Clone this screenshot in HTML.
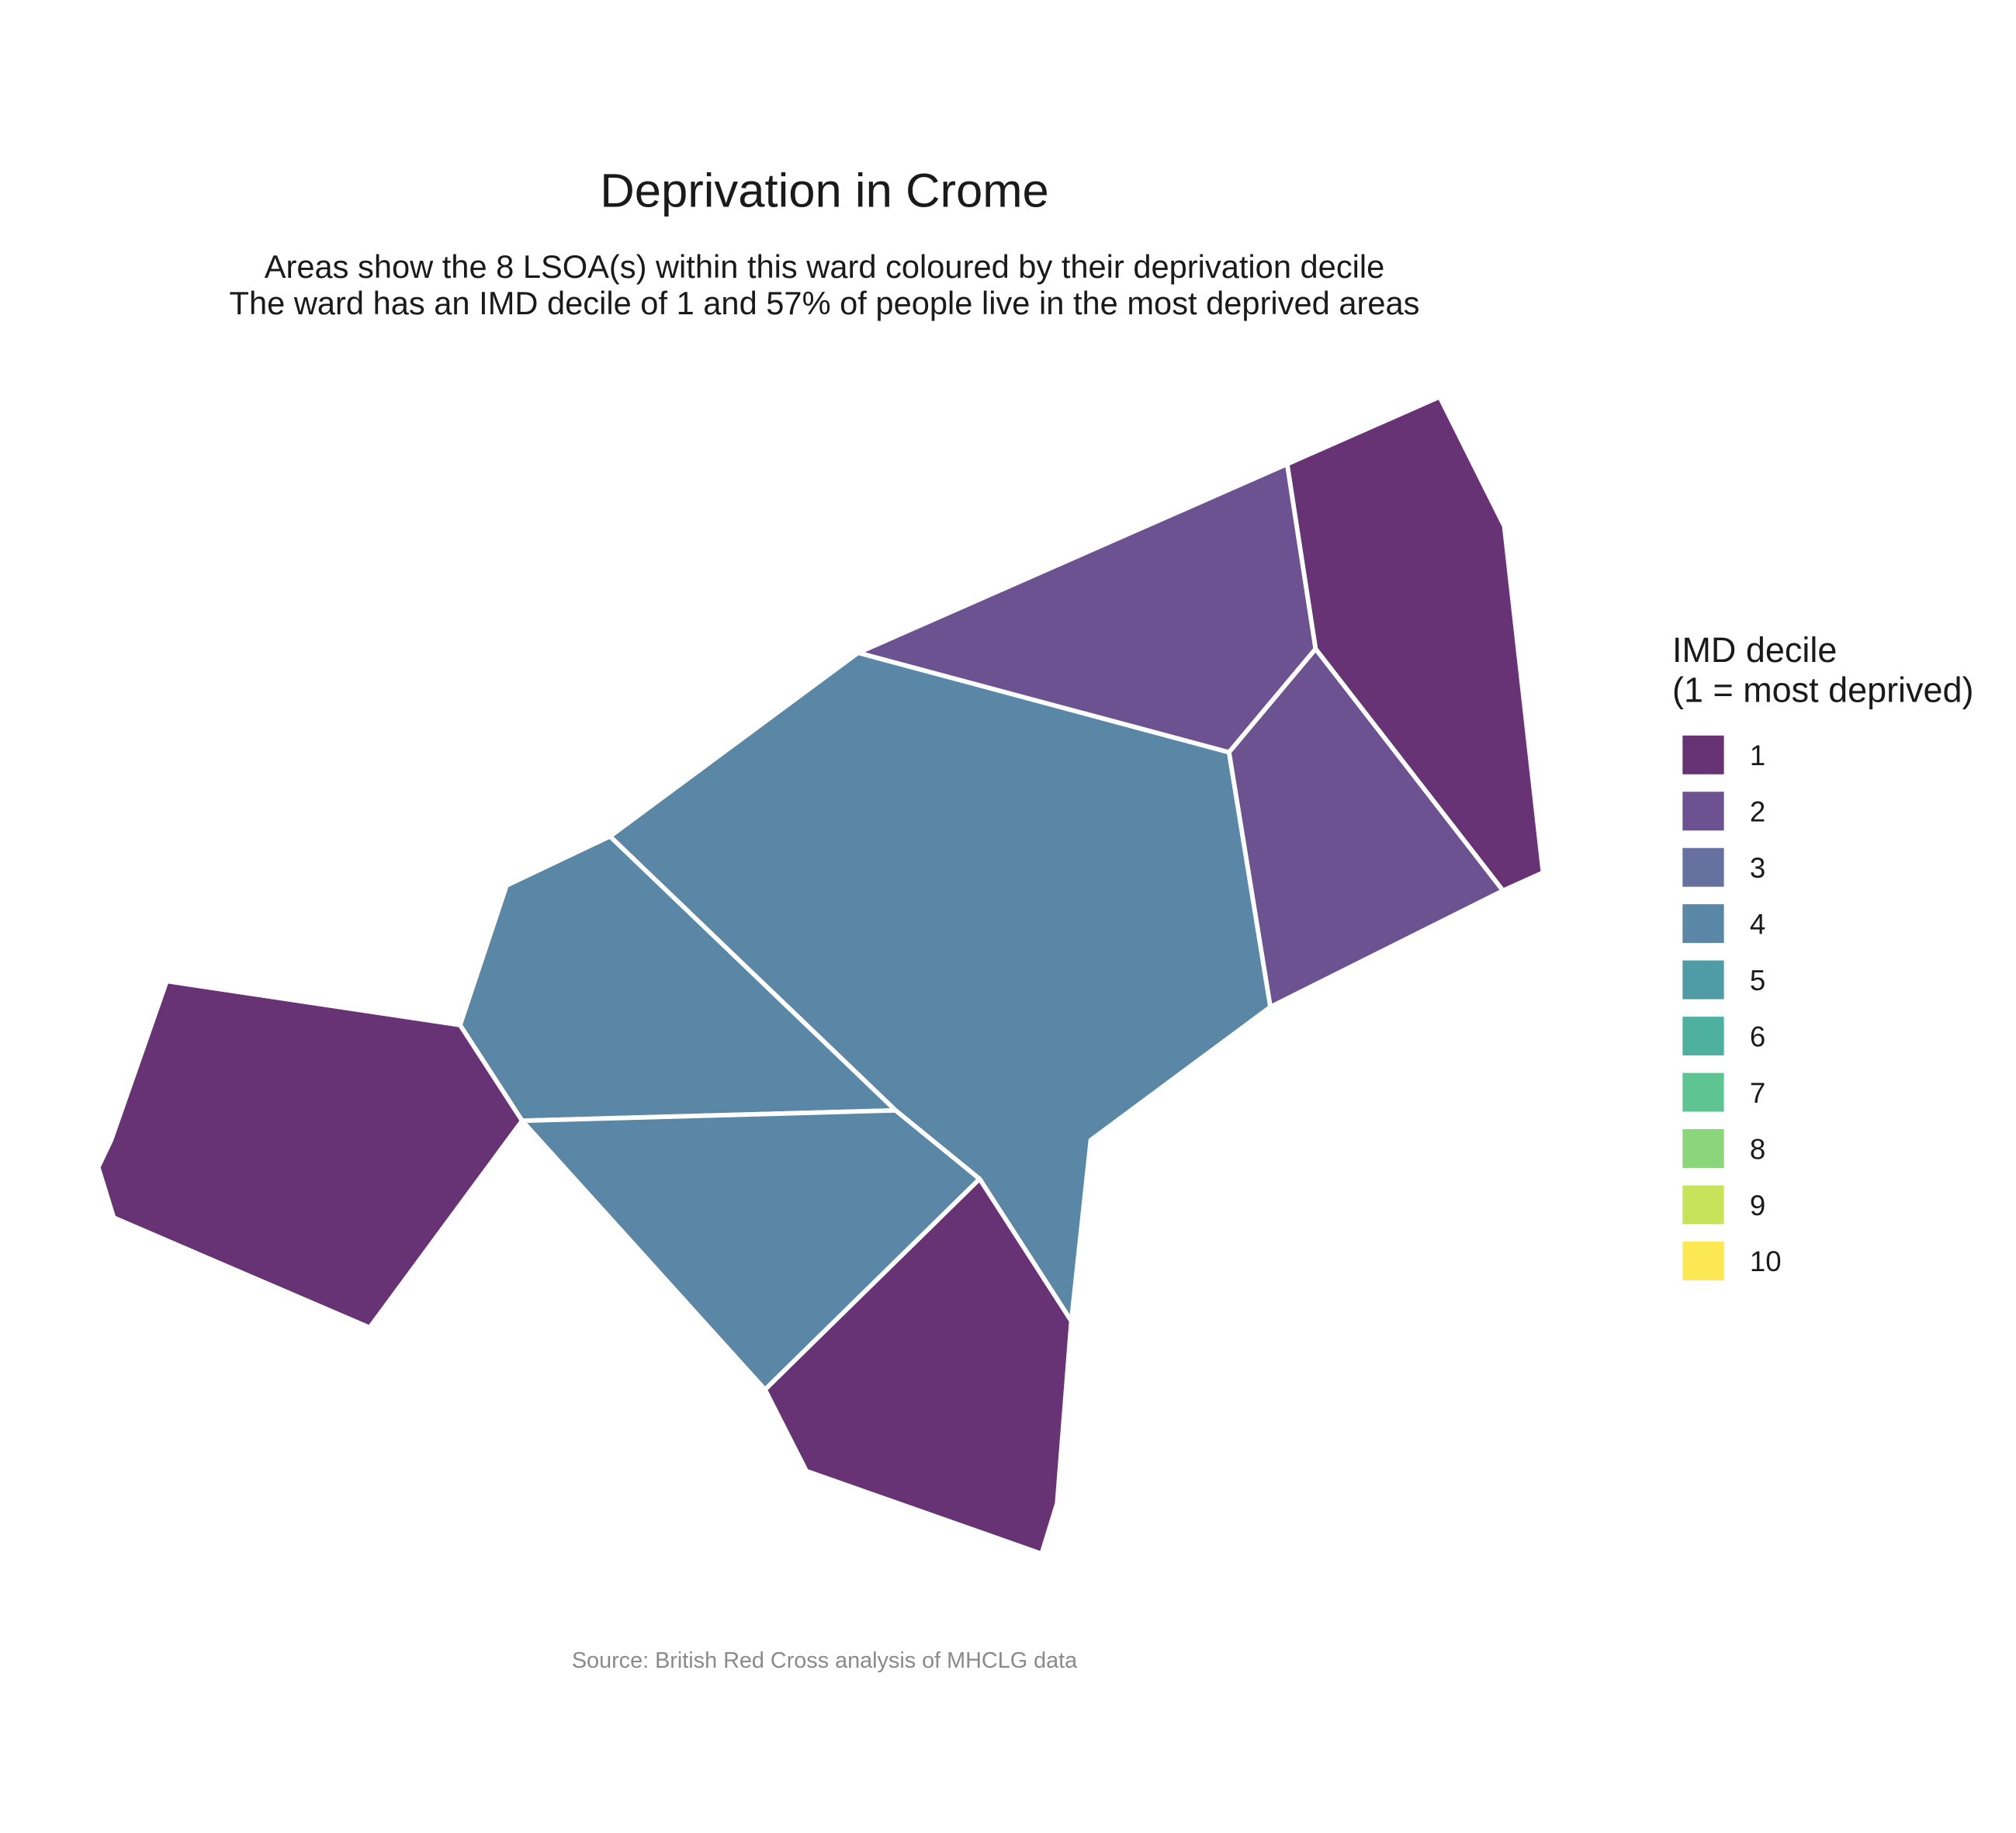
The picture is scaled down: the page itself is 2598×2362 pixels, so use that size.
<!DOCTYPE html>
<html><head><meta charset="utf-8"><style>
html,body{margin:0;padding:0;background:#fff;}
svg{display:block;}
text{font-family:"Liberation Sans",Arial,sans-serif;}
</style></head><body>
<svg id="chart" width="2598" height="2362" viewBox="0 0 1560 1418" preserveAspectRatio="none" xmlns="http://www.w3.org/2000/svg">
<rect width="1560" height="1418" fill="#fff"/>
<text x="638" y="160" font-size="37" text-anchor="middle" fill="#1a1a1a">Deprivation in Crome</text>
<text x="638" y="215" font-size="25" text-anchor="middle" fill="#1a1a1a">Areas show the 8 LSOA(s) within this ward coloured by their deprivation decile</text>
<text x="638" y="243" font-size="25" text-anchor="middle" fill="#1a1a1a">The ward has an IMD decile of 1 and 57% of people live in the most deprived areas</text>
<g id="areas" transform="translate(-4,-3)"></g>
<g id="legend">
<text x="1294" y="512" font-size="27" fill="#1a1a1a">IMD decile</text>
<text x="1294" y="543" font-size="27" fill="#1a1a1a">(1 = most deprived)</text>
</g>
<text x="638" y="1290" font-size="17.3" text-anchor="middle" fill="#8a8a8a">Source: British Red Cross analysis of MHCLG data</text>
</svg>
<script>
const areaNames = ["lsoa-ne","lsoa-north","lsoa-east","lsoa-central","lsoa-mid-west","lsoa-south-west","lsoa-south","lsoa-west"];
const areaDeciles = [1,2,2,4,4,4,1,1];
const areaShapes = [
 [[1000,362],[1118,310],[1168,410],[1198,678],[1167,692],[1022,505]],
 [[668,508],[1000,362],[1022,505],[955,585]],
 [[955,585],[1022,505],[1167,692],[987,782]],
 [[668,508],[955,585],[987,782],[848,885],[833,1025],[762,915],[697,862],[476,650]],
 [[476,650],[697,862],[408,870],[360,796],[396,688]],
 [[408,870],[697,862],[762,915],[596,1078]],
 [[596,1078],[762,915],[833,1025],[822,1166],[810,1205],[628,1141]],
 [[133,762],[360,796],[408,870],[290,1030],[92,945],[80,906],[90,885]]
];
const legendLabels = ["1","2","3","4","5","6","7","8","9","10"];
const palette = ["#673374","#6c5291","#6671a0","#5987a5","#4f9ca6","#4eb19f","#5ec592","#8bd67a","#c7e35a","#fbe852"];
const NS="http://www.w3.org/2000/svg";
const g=document.getElementById('areas');
areaShapes.forEach((pts,i)=>{
  const p=document.createElementNS(NS,'polygon');
  p.setAttribute('points',pts.map(q=>q.join(',')).join(' '));
  p.setAttribute('fill',palette[areaDeciles[i]-1]);
  p.setAttribute('stroke','#fff');
  p.setAttribute('stroke-width','3.5');
  p.setAttribute('stroke-linejoin','round');
  
  
  g.appendChild(p);
});
const lg=document.getElementById('legend');
legendLabels.forEach((lab,i)=>{
  const y=569+i*43.5;
  const r=document.createElementNS(NS,'rect');
  r.setAttribute('x',1302);r.setAttribute('y',y);r.setAttribute('width',32);r.setAttribute('height',30);
  r.setAttribute('fill',palette[i]);
  
  
  lg.appendChild(r);
  const t=document.createElementNS(NS,'text');
  t.setAttribute('x',1354);t.setAttribute('y',y+23);t.setAttribute('font-size','22');t.setAttribute('fill','#1a1a1a');
  t.textContent=lab;
  
  
  lg.appendChild(t);
});
</script>
</body></html>
